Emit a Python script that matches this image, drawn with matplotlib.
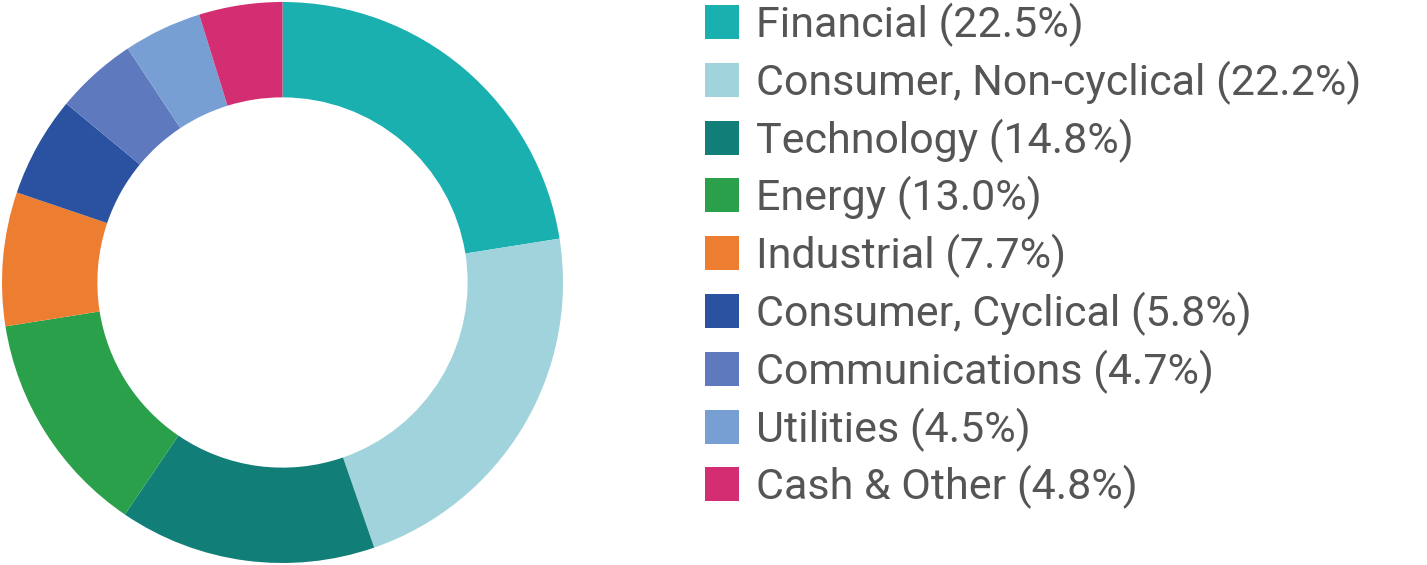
import matplotlib
matplotlib.use("Agg")
import matplotlib.pyplot as plt
from matplotlib.patches import Rectangle

categories = ["Financial", "Consumer, Non-cyclical", "Technology", "Energy", "Industrial",
              "Consumer, Cyclical", "Communications", "Utilities", "Cash & Other"]
values = [22.5, 22.2, 14.8, 13.0, 7.7, 5.8, 4.7, 4.5, 4.8]
colors = ["#1BB0B0", "#A0D3DC", "#127E78", "#2BA04A", "#ED7D31",
          "#2A52A0", "#5F79BF", "#779FD3", "#D42E72"]
labels = [f"{c} ({v:.1f}%)" for c, v in zip(categories, values)]

W, H = 1427, 565
fig = plt.figure(figsize=(W / 100, H / 100), dpi=100)

ax = fig.add_axes([2 / W, 1 / H, 561 / W, 563 / H])
ax.pie(values, colors=colors, startangle=90, counterclock=False,
       wedgeprops=dict(width=0.34, edgecolor="none"))
ax.set_xlim(-1, 1)
ax.set_ylim(-1, 1)
ax.set_aspect("equal")
ax.axis("off")

row0 = 22
step = 57.8
for i, (lab, col) in enumerate(zip(labels, colors)):
    yc = row0 + i * step
    fig.patches.append(Rectangle((705 / W, 1 - (yc + 17) / H), 34 / W, 34 / H,
                                 transform=fig.transFigure, facecolor=col, edgecolor="none"))
    fig.text(756 / W, 1 - (yc + 3) / H, lab, fontsize=31, color="#555555",
             family="Roboto", va="center", ha="left")

fig.savefig("out.png", dpi=100)
